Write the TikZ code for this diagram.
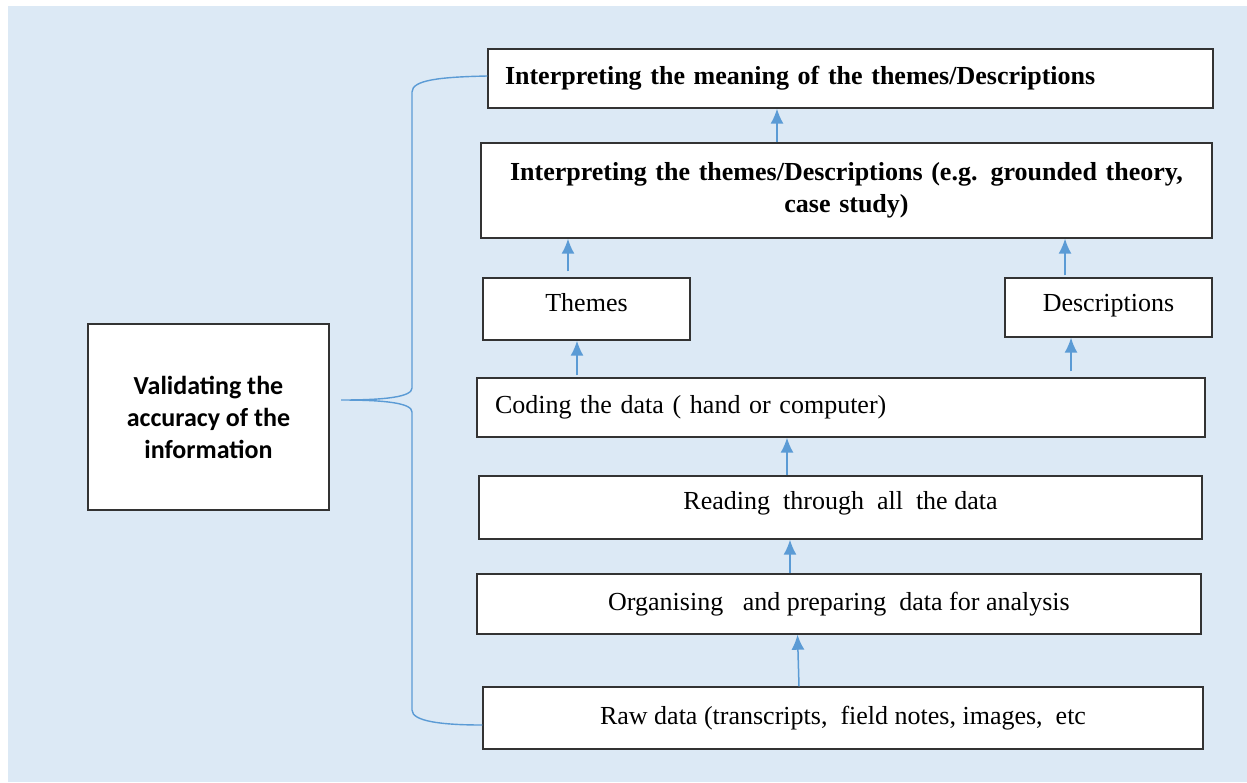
\documentclass[tikz,border=0pt]{standalone}
\usepackage{fontspec}
\setmainfont{Liberation Serif}
\newfontfamily\calibri{Carlito}
\usetikzlibrary{arrows.meta}
\definecolor{panel}{HTML}{DCE9F5}
\definecolor{flow}{HTML}{5B9BD5}
\definecolor{edge}{HTML}{333333}
\begin{document}
\begin{tikzpicture}[x=1pt,y=-1pt,
  stepbox/.style={draw=edge,line width=1.4pt,fill=white,inner sep=0pt,
    font=\fontsize{26}{32}\selectfont},
  lift/.style={text height=18pt,text depth=#1},
  uparrow/.style={draw=flow,line width=1.5pt,-{Latex[length=15pt,width=13pt]}},
  bracket/.style={draw=flow,line width=1.4pt}]
  % page and panel
  \useasboundingbox (0,0) rectangle (1247,782);
  \fill[white] (0,0) rectangle (1247,782);
  \fill[panel] (8,6) rectangle (1247,782);

  % process steps
  \node[stepbox,minimum width=725,minimum height=59,text width=691,align=left,
    font=\fontsize{26}{32}\selectfont\bfseries] (b1) at (850.5,78.5)
    {Interpreting the meaning of the themes/Descriptions};
  \node[stepbox,minimum width=731,minimum height=95,text width=700,align=center,
    font=\fontsize{26}{32}\selectfont\bfseries] (b2) at (846.5,190.5)
    {Interpreting\ the\ themes/Descriptions (e.g. grounded theory,\\ case study)\\[4pt]};
  \node[stepbox,lift=14pt,minimum width=207,minimum height=62] (th) at (586.5,309) {Themes};
  \node[stepbox,lift=11pt,minimum width=207,minimum height=59] (de) at (1108.5,307.5) {Descriptions};
  \node[stepbox,lift=6pt,minimum width=728,minimum height=59,text width=692,align=left] (co) at (841,407.5)
    {Coding\ the\ data ( hand\ or computer)};
  \node[stepbox,lift=15pt,minimum width=723,minimum height=63] (re) at (840.5,507.5)
    {Reading\ \ through\ \ all\ \ the data};
  \node[stepbox,lift=6pt,minimum width=724,minimum height=60] (or) at (839,604)
    {Organising\ \ \ and preparing\ \ data for analysis};
  \node[stepbox,lift=5pt,minimum width=720,minimum height=62] (ra) at (843,718)
    {Raw data (transcripts,\ \ field notes, images,\ \ etc};

  % validation box
  \node[stepbox,minimum width=241,minimum height=186,align=center,
    font=\fontsize{26}{32}\selectfont\calibri\bfseries] (va) at (208.5,417)
    {Validating the\\accuracy of the\\information};

  % upward flow
  \draw[uparrow] ([xshift=-69.5]b2.north) -- ([xshift=-73.5]b1.south);
  \draw[uparrow] ([xshift=-18.5,yshift=6]th.north) -- ([xshift=-278.5]b2.south);
  \draw[uparrow] ([xshift=-43.5,yshift=2]de.north) -- ([xshift=218.5]b2.south);
  \draw[uparrow] ([xshift=-264,yshift=2]co.north) -- ([xshift=-9.5]th.south);
  \draw[uparrow] ([xshift=230,yshift=6]co.north) -- ([xshift=-37.5]de.south);
  \draw[uparrow] ([xshift=-53.5]re.north) -- ([xshift=-54]co.south);
  \draw[uparrow] ([xshift=-49]or.north) -- ([xshift=-50.5]re.south);
  \draw[uparrow] ([xshift=-44]ra.north) -- ([xshift=-41.5]or.south);

  % curly bracket spanning all steps
  \coordinate (tip) at (341,400);
  \draw[bracket] ([yshift=2.5]b1.west) .. controls (440,77) and (412,80) .. (412,92)
    -- (412,388) .. controls (412,397) and (385,400) .. (tip)
    .. controls (385,400) and (412,403) .. (412,412)
    -- (412,710) .. controls (412,721) and (440,725) .. ([yshift=-7]ra.west);
\end{tikzpicture}
\end{document}
